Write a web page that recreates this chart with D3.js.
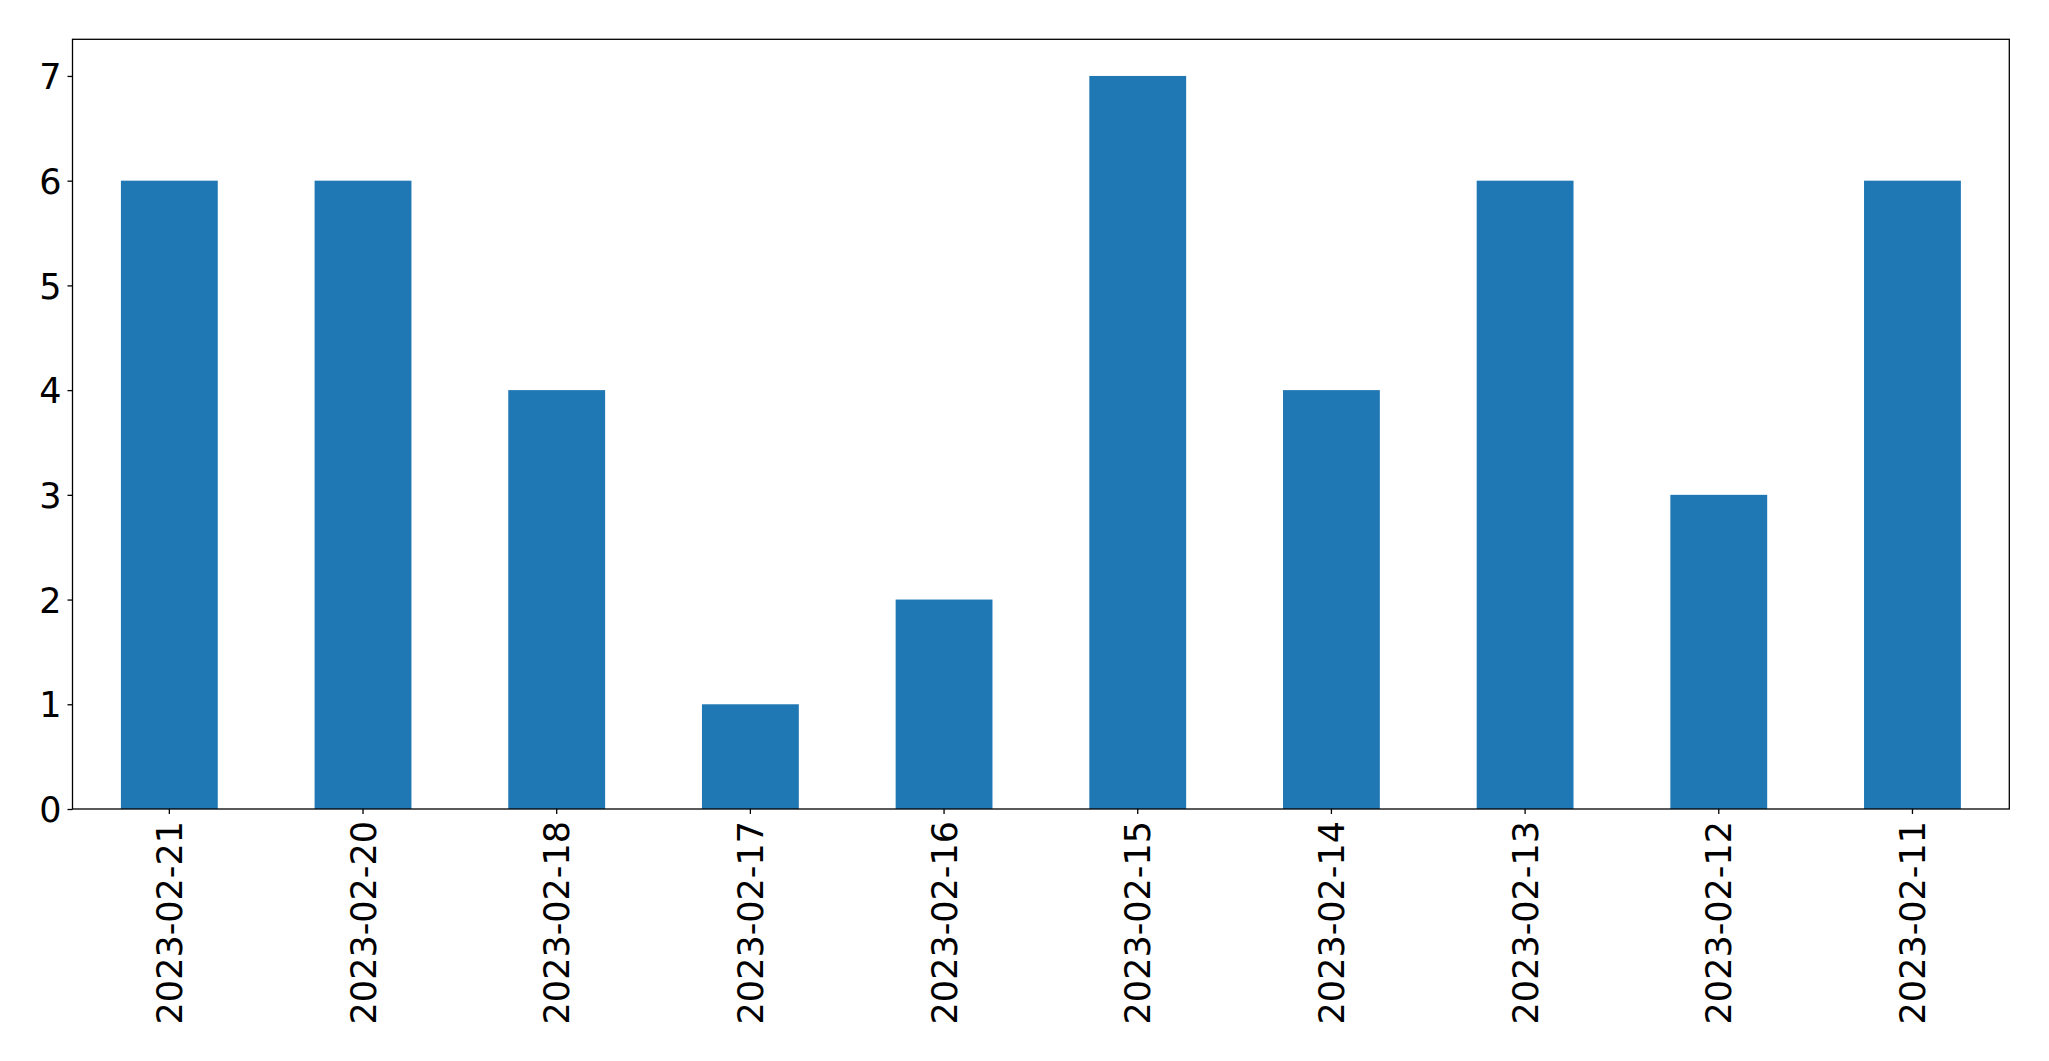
<!DOCTYPE html>
<html><head><meta charset="utf-8">
<script src="https://cdn.jsdelivr.net/npm/d3@7"></script>
<style>body{margin:0;background:#fff}svg{display:block}</style>
</head><body>
<script>
const categories = ["2023-02-21","2023-02-20","2023-02-18","2023-02-17","2023-02-16","2023-02-15","2023-02-14","2023-02-13","2023-02-12","2023-02-11"];
const values = [6,6,4,1,2,7,4,6,3,6];
const yTicks = [0,1,2,3,4,5,6,7];

const W = 2049, H = 1061;
const m = {left:72.5, right:W-2009.3, top:39.3, bottom:H-809};
const svg = d3.select("body").append("svg").attr("width",W).attr("height",H);
const x = d3.scaleBand().domain(categories).range([m.left, W-m.right]).paddingInner(0.5).paddingOuter(0.25);
const y = d3.scaleLinear().domain([0, 7.35]).range([H-m.bottom, m.top]);
const font = "DejaVu Sans";

svg.append("g").selectAll("rect").data(values).join("rect")
  .attr("x",(d,i)=>x(categories[i])).attr("width",x.bandwidth())
  .attr("y",d=>y(d)).attr("height",d=>y(0)-y(d)).attr("fill","#1f77b4");

const ya = svg.append("g").attr("transform",`translate(${m.left},0)`)
  .call(d3.axisLeft(y).tickValues(yTicks).tickFormat(d3.format("d")).tickSize(5).tickPadding(6));
const xa = svg.append("g").attr("transform",`translate(0,${H-m.bottom})`)
  .call(d3.axisBottom(x).tickSize(5).tickPadding(6));
[ya,xa].forEach(a=>{
  a.select(".domain").remove();
  a.selectAll("line").attr("stroke","#000").attr("stroke-width",1.3);
  a.selectAll("text").attr("font-family",font).attr("font-size",35).attr("fill","#000");
});
ya.selectAll("text").attr("dy","0.36em");
xa.selectAll("text").attr("transform","rotate(-90)").attr("text-anchor","end")
  .attr("x",-12).attr("y",0).attr("dy","0.36em");

svg.append("rect").attr("x",m.left).attr("y",m.top).attr("width",W-m.right-m.left).attr("height",H-m.bottom-m.top)
  .attr("fill","none").attr("stroke","#000").attr("stroke-width",1.3);
</script>
</body></html>
